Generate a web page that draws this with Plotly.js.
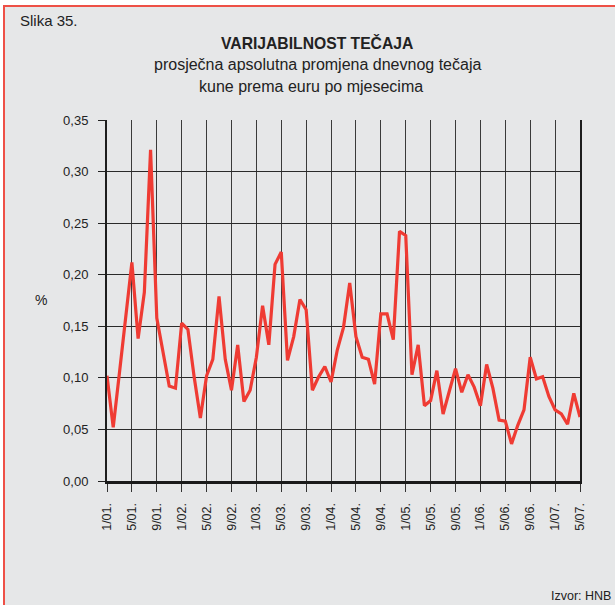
<!DOCTYPE html>
<html>
<head>
<meta charset="utf-8">
<script src="https://cdn.plot.ly/plotly-3.0.1.min.js"></script>
<style>
  html, body { margin:0; padding:0; background:#ffffff; width:615px; height:605px; overflow:hidden; }
  #frame { position:absolute; left:3px; top:5px; width:620px; height:610px; background:#e6e7e8;
           border-left:2px solid #ee5046; border-top:2px solid #ee5046; }
  #chart { position:absolute; left:0; top:0; width:615px; height:605px; }
</style>
</head>
<body>
<div id="frame"></div>
<div id="chart"></div>
<script>
// Monthly categories (1/01 .. 5/07)
const months = [
  '1/01.','2/01.','3/01.','4/01.','5/01.','6/01.','7/01.','8/01.','9/01.','10/01.','11/01.','12/01.',
  '1/02.','2/02.','3/02.','4/02.','5/02.','6/02.','7/02.','8/02.','9/02.','10/02.','11/02.','12/02.',
  '1/03.','2/03.','3/03.','4/03.','5/03.','6/03.','7/03.','8/03.','9/03.','10/03.','11/03.','12/03.',
  '1/04.','2/04.','3/04.','4/04.','5/04.','6/04.','7/04.','8/04.','9/04.','10/04.','11/04.','12/04.',
  '1/05.','2/05.','3/05.','4/05.','5/05.','6/05.','7/05.','8/05.','9/05.','10/05.','11/05.','12/05.',
  '1/06.','2/06.','3/06.','4/06.','5/06.','6/06.','7/06.','8/06.','9/06.','10/06.','11/06.','12/06.',
  '1/07.','2/07.','3/07.','4/07.','5/07.'
];
// Average absolute daily change of HRK/EUR rate, %
const variability = [
  0.102, 0.052, 0.105, 0.159, 0.212, 0.138, 0.183, 0.321, 0.158, 0.125, 0.092, 0.090,
  0.153, 0.147, 0.101, 0.061, 0.102, 0.118, 0.179, 0.118, 0.088, 0.132, 0.077, 0.088,
  0.120, 0.170, 0.132, 0.210, 0.222, 0.117, 0.140, 0.176, 0.166, 0.088, 0.101, 0.111,
  0.096, 0.127, 0.149, 0.192, 0.140, 0.120, 0.118, 0.094, 0.162, 0.162, 0.137, 0.242,
  0.238, 0.103, 0.132, 0.073, 0.078, 0.107, 0.065, 0.087, 0.109, 0.086, 0.103, 0.091,
  0.073, 0.113, 0.090, 0.059, 0.058, 0.036, 0.054, 0.069, 0.120, 0.099, 0.101, 0.082,
  0.069, 0.065, 0.055, 0.085, 0.062
];
// Labelled ticks (every fourth month)
const tickLabels = ['1/01.','5/01.','9/01.','1/02.','5/02.','9/02.','1/03.','5/03.','9/03.','1/04.',
  '5/04.','9/04.','1/05.','5/05.','9/05.','1/06.','5/06.','9/06.','1/07.','5/07.'];
const yTicks = [0, 0.05, 0.10, 0.15, 0.20, 0.25, 0.30, 0.35];

const L = 107, R = 580, T = 120, B = 481, W = 615, H = 605;
const px = x => (x - L) / (R - L);
const py = y => (B - y) / (B - T);
const FONT = 'Liberation Sans, Arial, Helvetica, sans-serif';

const trace = {
  x: months, y: variability, type: 'scatter', mode: 'lines',
  line: { color: '#ef3b33', width: 3.2 }, hoverinfo: 'skip'
};

const layout = {
  width: W, height: H,
  margin: { l: L, r: W - R, t: T, b: H - B, pad: 0 },
  paper_bgcolor: 'rgba(0,0,0,0)', plot_bgcolor: '#e6e7e8',
  separators: ',.',
  showlegend: false,
  font: { family: FONT, size: 12, color: '#222' },
  xaxis: {
    type: 'category', range: [0, months.length - 1],
    tickmode: 'array', tickvals: tickLabels, ticktext: tickLabels,
    tickangle: -90, ticks: 'outside', ticklen: 8, tickwidth: 1, tickcolor: '#333',
    ticklabelstandoff: 6,
    tickfont: { family: FONT, size: 12.5, color: '#222' },
    showgrid: true, gridcolor: '#3a3a3a', gridwidth: 1,
    showline: true, linecolor: '#1a1a1a', linewidth: 3,
    zeroline: false, fixedrange: true
  },
  yaxis: {
    range: [0, 0.35], tickvals: yTicks, tickformat: '.2f',
    ticks: 'outside', ticklen: 7, tickwidth: 1, tickcolor: '#222',
    ticklabelstandoff: 7,
    tickfont: { family: FONT, size: 13, color: '#222' },
    showgrid: true, gridcolor: '#2a2a2a', gridwidth: 1,
    showline: true, mirror: true, linecolor: '#1e1e1e', linewidth: 2,
    zeroline: false, fixedrange: true
  },
  annotations: [
    { text: 'Slika 35.', xref: 'paper', yref: 'paper', x: px(18), y: py(21), xanchor: 'left', yanchor: 'middle',
      showarrow: false, font: { family: FONT, size: 15, color: '#222' } },
    { text: '<b>VARIJABILNOST TEČAJA</b>', xref: 'paper', yref: 'paper', x: px(317), y: py(43), xanchor: 'center', yanchor: 'middle',
      showarrow: false, font: { family: FONT, size: 15.7, color: '#222' } },
    { text: 'prosječna apsolutna promjena dnevnog tečaja', xref: 'paper', yref: 'paper', x: px(317), y: py(65), xanchor: 'center', yanchor: 'middle',
      showarrow: false, font: { family: FONT, size: 16, color: '#222' } },
    { text: 'kune prema euru po mjesecima', xref: 'paper', yref: 'paper', x: px(311), y: py(86), xanchor: 'center', yanchor: 'middle',
      showarrow: false, font: { family: FONT, size: 16, color: '#222' } },
    { text: '%', xref: 'paper', yref: 'paper', x: px(41), y: py(300), xanchor: 'center', yanchor: 'middle',
      showarrow: false, font: { family: FONT, size: 14, color: '#222' } },
    { text: 'Izvor: HNB', xref: 'paper', yref: 'paper', x: px(613), y: py(596), xanchor: 'right', yanchor: 'middle',
      showarrow: false, font: { family: FONT, size: 12.5, color: '#222' } }
  ]
};

Plotly.newPlot('chart', [trace], layout, { displayModeBar: false, staticPlot: true });
</script>
</body>
</html>
